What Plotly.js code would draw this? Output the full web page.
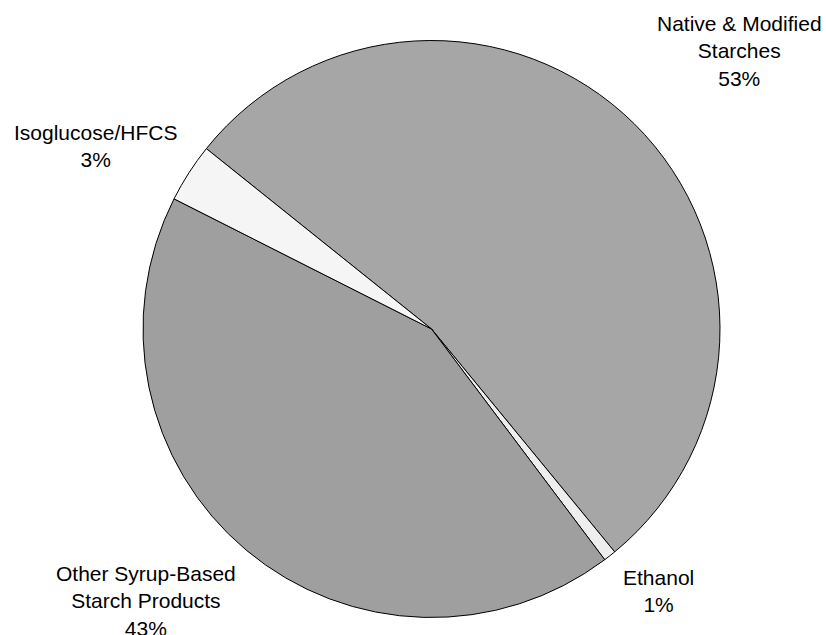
<!DOCTYPE html>
<html>
<head>
<meta charset="utf-8">
<script src="https://cdn.plot.ly/plotly-3.0.1.min.js"></script>
<style>
html,body{margin:0;padding:0;background:#fff;}
#chart{width:826px;height:635px;}
</style>
</head>
<body>
<div id="chart"></div>
<script>
// Data
var categories = ["Native & Modified Starches", "Ethanol", "Other Syrup-Based Starch Products", "Isoglucose/HFCS"];
var labelLines = [["Native & Modified", "Starches"], ["Ethanol"], ["Other Syrup-Based", "Starch Products"], ["Isoglucose/HFCS"]];
var shares = [53.3, 0.7, 42.7, 3.3];
var sliceColors = ["#a6a6a6", "#eeeeee", "#9f9f9f", "#f5f5f5"];

// label anchor points (pixels in the 826x635 frame)
var labelPos = [[739, 51], [658, 591], [146, 601], [95, 146]];

var W = 826, H = 635;
var total = shares.reduce(function(a, b){ return a + b; }, 0);

var trace = {
  type: "pie",
  labels: categories,
  values: shares,
  sort: false,
  direction: "clockwise",
  rotation: -51.3,
  textinfo: "none",
  hoverinfo: "label+percent",
  marker: {colors: sliceColors, line: {color: "#000000", width: 1}},
  domain: {x: [143 / W, 720 / W], y: [1 - 617.5 / H, 1 - 40.5 / H]},
  showlegend: false
};

var annotations = categories.map(function(c, i){
  var pct = Math.round(shares[i] / total * 100) + "%";
  return {
    text: labelLines[i].concat([pct]).join("<br>"),
    x: labelPos[i][0] / W,
    y: 1 - labelPos[i][1] / H,
    xref: "paper", yref: "paper",
    xanchor: "center", yanchor: "middle",
    align: "center",
    showarrow: false,
    font: {family: "Liberation Sans, Arial, sans-serif", size: 21, color: "#000000"}
  };
});

var layout = {
  width: W, height: H,
  margin: {l: 0, r: 0, t: 0, b: 0},
  paper_bgcolor: "#ffffff",
  plot_bgcolor: "#ffffff",
  showlegend: false,
  annotations: annotations
};

Plotly.newPlot("chart", [trace], layout, {displayModeBar: false, staticPlot: true});
</script>
</body>
</html>
